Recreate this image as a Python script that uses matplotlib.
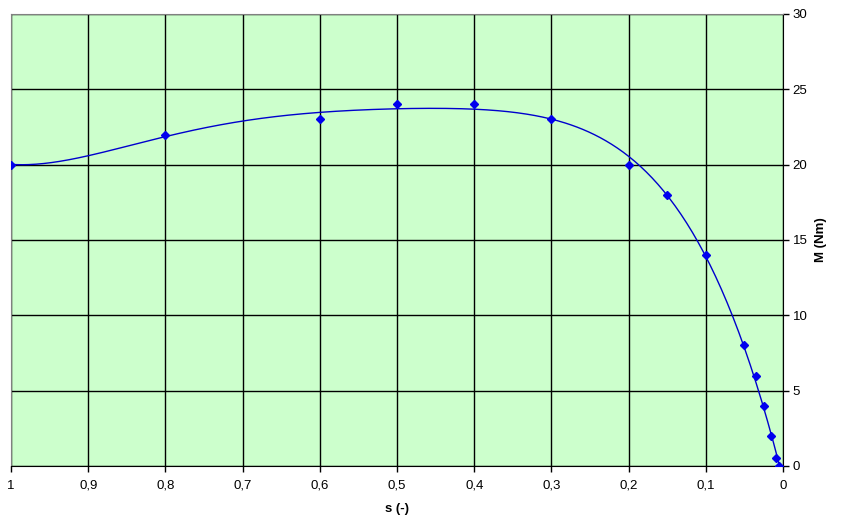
import numpy as np
import matplotlib.pyplot as plt

plt.rcParams['font.family'] = ['Liberation Sans', 'DejaVu Sans']

# slip and torque readings
s = [1.0, 0.8, 0.6, 0.5, 0.4, 0.3, 0.2, 0.15, 0.1, 0.05, 0.035, 0.025, 0.015, 0.009, 0.005]
M = [20, 22, 23, 24, 24, 23, 20, 18, 14, 8, 6, 4, 2, 0.5, 0]
x_ticks = [1.0, 0.9, 0.8, 0.7, 0.6, 0.5, 0.4, 0.3, 0.2, 0.1, 0.0]
y_ticks = [0, 5, 10, 15, 20, 25, 30]

# polynomial trendline through the readings
coef = np.polyfit(s, M, 5)
xs = np.linspace(max(s), min(s), 400)
ys = np.polyval(coef, xs)

fig = plt.figure(figsize=(8.48, 5.28), dpi=100)
ax = fig.add_axes([11 / 848, 62 / 528, 772 / 848, 452 / 528])
ax.set_facecolor('#ccffcc')

ax.plot(xs, ys, color='#0000cc', lw=1.0, zorder=3)
ax.plot(s, M, ls='none', marker='D', ms=4.5, color='#0000ee', zorder=4)

ax.set_xlim(1, 0)
ax.set_ylim(0, 30)
ax.set_xticks(x_ticks)
ax.set_xticklabels([('%g' % t).replace('.', ',') for t in x_ticks])
ax.set_yticks(y_ticks)
ax.grid(True, color='black', lw=1.0)
ax.set_axisbelow(True)

ax.yaxis.tick_right()
ax.yaxis.set_label_position('right')
ax.tick_params(axis='both', direction='out', length=4, width=1, labelsize=9.5, colors='black')
ax.tick_params(axis='x', pad=6)
ax.tick_params(axis='y', pad=3)

for side in ['left', 'top']:
    ax.spines[side].set_color('#808080')
for side in ['right', 'bottom']:
    ax.spines[side].set_color('black')

ax.set_xlabel('s (-)', fontweight='bold', fontsize=9.5, labelpad=8)
ax.set_ylabel('M (Nm)', fontweight='bold', fontsize=9.5, labelpad=5)

fig.savefig('out.png', dpi=100)
